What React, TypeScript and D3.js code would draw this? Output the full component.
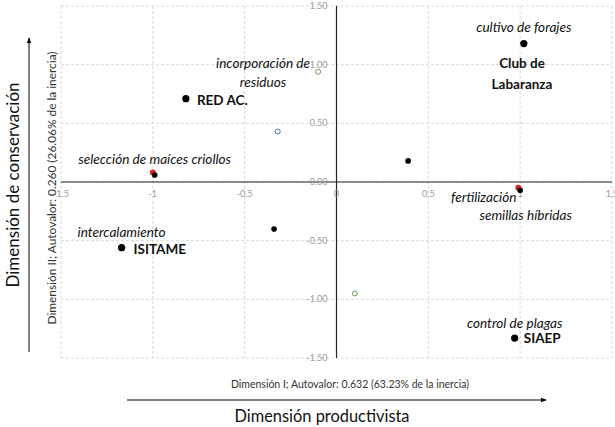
import React, { useRef, useEffect } from 'react';
import * as d3 from 'd3';

// point coordinates (Dimension I, Dimension II)
const filledPoints: [number, number][] = [
    [1.02, 1.18], [-0.82, 0.71], [0.39, 0.18], [-0.34, -0.40],
    [-1.17, -0.56], [0.97, -1.33],
];
const smallFilledPoints: [number, number][] = [[-0.99, 0.06], [1.0, -0.07]];
const redPoints: [number, number][] = [[-1.0, 0.08], [0.99, -0.05]];
const openBluePoints: [number, number][] = [[-0.32, 0.43]];
const openGreenPoints: [number, number][] = [[-0.10, 0.94], [0.10, -0.95]];

const xTicks = [-1.5, -1, -0.5, 0, 0.5, 1, 1.5];
const yTicks = [-1.5, -1.0, -0.5, 0, 0.5, 1.0, 1.5];
const xTickLabels = ['-1.5', '-1', '-0.5', '0', '0.5', '1', '1.5'];
const yTickLabels = ['-1.50', '-1.00', '-0.50', '0.00', '0.50', '1.00', '1.50'];

// actor labels (bold) and practice labels (italic), anchored in data units
const actorLabels: { text: string; x: number; y: number; anchor: string }[] = [
    { text: 'Club de', x: 1.01, y: 1.01, anchor: 'middle' },
    { text: 'Labaranza', x: 1.01, y: 0.835, anchor: 'middle' },
    { text: 'RED AC.', x: -0.76, y: 0.70, anchor: 'start' },
    { text: 'ISITAME', x: -1.105, y: -0.57, anchor: 'start' },
    { text: 'SIAEP', x: 1.02, y: -1.33, anchor: 'start' },
];
const practiceLabels: { text: string; x: number; y: number; anchor: string }[] = [
    { text: 'cultivo de forajes', x: 1.02, y: 1.32, anchor: 'middle' },
    { text: 'incorporación de', x: -0.40, y: 1.01, anchor: 'middle' },
    { text: 'residuos', x: -0.40, y: 0.85, anchor: 'middle' },
    { text: 'selección de maíces criollos', x: -0.99, y: 0.19, anchor: 'middle' },
    { text: 'fertilización', x: 0.98, y: -0.13, anchor: 'end' },
    { text: 'semillas híbridas', x: 1.03, y: -0.28, anchor: 'middle' },
    { text: 'intercalamiento', x: -1.41, y: -0.43, anchor: 'start' },
    { text: 'control de plagas', x: 0.97, y: -1.20, anchor: 'middle' },
];

const xTitle = 'Dimensión I; Autovalor: 0.632 (63.23% de la inercia)';
const yTitle = 'Dimensión II; Autovalor: 0.260 (26.06% de la inercia)';
const xConcept = 'Dimensión productivista';
const yConcept = 'Dimensión de conservación';

const width = 615;
const height = 427;
const font = 'Lato, "Open Sans", sans-serif';

const App: React.FC = () => {
    const svgRef = useRef<SVGSVGElement | null>(null);

    useEffect(() => {
        const svg = d3.select(svgRef.current);
        svg.selectAll('*').remove();

        const x = d3.scaleLinear().domain([-1.5, 1.5]).range([61, 612]);
        const y = d3.scaleLinear().domain([-1.5, 1.5]).range([358, 6]);

        svg.append('defs').append('marker')
            .attr('id', 'arrow')
            .attr('viewBox', '0 0 10 10')
            .attr('refX', 9).attr('refY', 5)
            .attr('markerWidth', 6).attr('markerHeight', 6)
            .attr('orient', 'auto')
            .append('path')
            .attr('d', 'M0,1L10,5L0,9Z')
            .attr('fill', '#000');

        // dashed grid
        const grid = svg.append('g');
        grid.selectAll('.vg')
            .data(xTicks)
            .enter()
            .append('line')
            .attr('x1', d => x(d)).attr('x2', d => x(d))
            .attr('y1', y(1.5)).attr('y2', y(-1.5))
            .style('stroke', '#d9d9d9')
            .style('stroke-dasharray', '3,2')
            .style('stroke-width', '1px');
        grid.selectAll('.hg')
            .data(yTicks)
            .enter()
            .append('line')
            .attr('x1', x(-1.5)).attr('x2', x(1.5))
            .attr('y1', d => y(d)).attr('y2', d => y(d))
            .style('stroke', '#d9d9d9')
            .style('stroke-dasharray', '3,2')
            .style('stroke-width', '1px');

        // zero axes
        svg.append('line')
            .attr('x1', x(-1.5)).attr('x2', x(1.5))
            .attr('y1', y(0)).attr('y2', y(0))
            .style('stroke', '#222').style('stroke-width', '1.2px');
        svg.append('line')
            .attr('x1', x(0)).attr('x2', x(0))
            .attr('y1', y(1.5)).attr('y2', y(-1.5))
            .style('stroke', '#222').style('stroke-width', '1.2px');

        // tick labels
        svg.selectAll('.xt')
            .data(xTicks)
            .enter()
            .append('text')
            .attr('x', d => x(d))
            .attr('y', y(0) + 15)
            .attr('text-anchor', 'middle')
            .style('font-family', font)
            .style('font-size', '9px')
            .style('fill', '#9a9a9a')
            .text((d, i) => xTickLabels[i]);
        svg.selectAll('.yt')
            .data(yTicks)
            .enter()
            .append('text')
            .attr('x', x(0) - 9)
            .attr('y', d => y(d))
            .attr('dy', '0.35em')
            .attr('text-anchor', 'end')
            .style('font-family', font)
            .style('font-size', '9px')
            .style('fill', '#9a9a9a')
            .text((d, i) => yTickLabels[i]);

        // points
        svg.selectAll('.red')
            .data(redPoints)
            .enter()
            .append('circle')
            .attr('cx', d => x(d[0])).attr('cy', d => y(d[1]))
            .attr('r', 3)
            .style('fill', '#e0202a');
        svg.selectAll('.fp')
            .data(filledPoints)
            .enter()
            .append('circle')
            .attr('cx', d => x(d[0])).attr('cy', d => y(d[1]))
            .attr('r', (d, i) => (i === 2 || i === 3 ? 2.8 : 3.6))
            .style('fill', '#000');
        svg.selectAll('.sfp')
            .data(smallFilledPoints)
            .enter()
            .append('circle')
            .attr('cx', d => x(d[0])).attr('cy', d => y(d[1]))
            .attr('r', 2.8)
            .style('fill', '#000');
        svg.selectAll('.ob')
            .data(openBluePoints)
            .enter()
            .append('circle')
            .attr('cx', d => x(d[0])).attr('cy', d => y(d[1]))
            .attr('r', 2.5)
            .style('fill', '#fff')
            .style('stroke', '#4a6fb5')
            .style('stroke-width', '1px');
        svg.selectAll('.og')
            .data(openGreenPoints)
            .enter()
            .append('circle')
            .attr('cx', d => x(d[0])).attr('cy', d => y(d[1]))
            .attr('r', 2.5)
            .style('fill', '#fff')
            .style('stroke', '#6a9a55')
            .style('stroke-width', '1px');

        // labels
        svg.selectAll('.al')
            .data(actorLabels)
            .enter()
            .append('text')
            .attr('x', d => x(d.x))
            .attr('y', d => y(d.y))
            .attr('dy', '0.35em')
            .attr('text-anchor', d => d.anchor)
            .style('font-family', font)
            .style('font-weight', 'bold')
            .style('font-size', '13.5px')
            .style('fill', '#111')
            .text(d => d.text);
        svg.selectAll('.pl')
            .data(practiceLabels)
            .enter()
            .append('text')
            .attr('x', d => x(d.x))
            .attr('y', d => y(d.y))
            .attr('dy', '0.35em')
            .attr('text-anchor', d => d.anchor)
            .style('font-family', font)
            .style('font-style', 'italic')
            .style('font-size', '13.6px')
            .style('fill', '#111')
            .text(d => d.text);

        // axis titles
        svg.append('text')
            .attr('x', 350).attr('y', 384)
            .attr('dy', '0.35em')
            .attr('text-anchor', 'middle')
            .style('font-family', font)
            .style('font-size', '10.5px')
            .style('fill', '#333')
            .text(xTitle);
        svg.append('text')
            .attr('transform', 'translate(52,188) rotate(-90)')
            .attr('dy', '0.35em')
            .attr('text-anchor', 'middle')
            .style('font-family', font)
            .style('font-size', '11.9px')
            .style('fill', '#333')
            .text(yTitle);

        // concept arrows
        svg.append('line')
            .attr('x1', 127).attr('x2', 546)
            .attr('y1', 400).attr('y2', 400)
            .style('stroke', '#000').style('stroke-width', '1px')
            .attr('marker-end', 'url(#arrow)');
        svg.append('text')
            .attr('x', 322).attr('y', 416)
            .attr('dy', '0.35em')
            .attr('text-anchor', 'middle')
            .style('font-family', font)
            .style('font-size', '16.4px')
            .style('fill', '#111')
            .text(xConcept);
        svg.append('line')
            .attr('x1', 29).attr('x2', 29)
            .attr('y1', 352).attr('y2', 38)
            .style('stroke', '#000').style('stroke-width', '1px')
            .attr('marker-end', 'url(#arrow)');
        svg.append('text')
            .attr('transform', 'translate(13,185) rotate(-90)')
            .attr('dy', '0.35em')
            .attr('text-anchor', 'middle')
            .style('font-family', font)
            .style('font-size', '17px')
            .style('fill', '#111')
            .text(yConcept);
    }, []);

    return (
        <svg
            ref={svgRef}
            width={width}
            height={height}
            style={{ position: 'absolute', left: 0, top: 0, background: '#fff' }}
        ></svg>
    );
};

export default App;
